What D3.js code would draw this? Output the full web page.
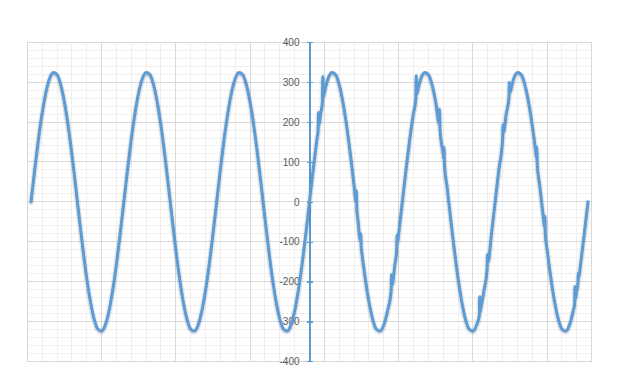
<!DOCTYPE html>
<html>
<head>
<meta charset="utf-8">
<script src="https://cdn.jsdelivr.net/npm/d3@7/dist/d3.min.js"></script>
<style>
  html, body { margin: 0; padding: 0; background: #ffffff; }
  svg { display: block; }
</style>
</head>
<body>
<svg id="chart" width="617" height="392"></svg>
<script>
// ---- data (sample index vs. voltage) ----
// first three cycles: clean sine
const cleanX = [5,10,15,20,25,30,35,40,45,50,55,60,65,70,75,80,85,90,95,100,105,110,115,120,125,
  130,135,140,145,150,155,160,165,170,175,180,185,190,195,200,205,210,215,220,225,230,235,240,245,250,
  255,260,265,270,275,280,285,290,295,300,305,310,315,320,325,330,335,340,345,350,355,360,365,370,375];
const cleanV = [0,81,157,222,274,309,324,319,294,250,191,120,41,-41,-120,-191,-250,-294,-319,-324,-309,-274,-222,-157,-81,
  0,81,157,222,274,309,324,319,294,250,191,120,41,-41,-120,-191,-250,-294,-319,-324,-309,-274,-222,-157,-81,
  0,81,157,222,274,309,324,319,294,250,191,120,41,-41,-120,-191,-250,-294,-319,-324,-309,-274,-222,-157,-81];
// last three cycles: sine with switching glitches
const noisyX = [380,385,390,391.6,392.1,392.8,395,397.4,397.9,398.8,400,405,410,415,420,425,430,435,440,442.6,443.1,443.8,445,
  448.5,449.0,449.7,450,455,460,465,470,475,480,485,489.9,490.4,491.1,495,497.4,497.9,498.6,500,
  505,510,515,520,523.2,523.7,524.6,525,530,535,540,545,550,554.6,555.1,555.8,560,560.6,561.1,561.8,565,570,575,580,585,590,595,600,605,
  608.7,609.2,609.8,610,615,619.2,619.7,620.4,625,
  630,635,640.1,640.6,641.3,645,648.6,649.1,649.8,650,655,660,665,670,675,680,685,685.5,686.0,686.7,690,695,696.4,696.9,697.6,
  700,705,710,715,720,725,730,735,737.0,737.5,738.1,740,741.5,742.0,742.6,745,750,755];
const noisyV = [0,81,157,179,224,192,222,249,314,264,274,309,324,319,294,250,191,120,41,1,28,-21,-41,
  -97,-80,-115,-120,-191,-250,-294,-319,-324,-309,-274,-224,-183,-209,-157,-121,-84,-103,-81,
  0,81,157,222,258,316,271,274,309,324,319,294,250,196,232,180,120,110,137,92,41,-41,-120,-191,-250,-294,-319,-324,-309,
  -285,-238,-276,-274,-222,-168,-132,-151,-81,
  0,81,158,193,175,222,261,300,273,274,309,324,319,294,250,191,120,112,137,93,41,-41,-63,-36,-82,
  -120,-191,-250,-294,-319,-324,-309,-274,-256,-212,-244,-222,-204,-178,-190,-157,-81,0];

const yTicks = [-400,-300,-200,-100,0,100,200,300,400];
const yTickLabels = ["-400","-300","-200","-100","0","100","200","300","400"];
const xDomain = [0, 760];
const yDomain = [-400, 400];
const xMajorStep = 100, xMinorStep = 20, yMinorStep = 20;
const axisCrossX = 380;

// ---- drawing ----
const svg = d3.select("#chart");
const x = d3.scaleLinear().domain(xDomain).range([27.3, 591.7]);
const y = d3.scaleLinear().domain(yDomain).range([361.3, 42.3]);

const grid = svg.append("g").attr("shape-rendering", "crispEdges");
const xMinor = d3.range(xDomain[0], xDomain[1] + 1, xMinorStep).filter(v => v % xMajorStep !== 0);
const yMinor = d3.range(yDomain[0], yDomain[1] + 1, yMinorStep).filter(v => v % 100 !== 0);
const xMajor = d3.range(xDomain[0], xDomain[1] + 1, xMajorStep).concat([xDomain[1]]);

grid.selectAll(".xmin").data(xMinor).join("line")
  .attr("x1", d => x(d)).attr("x2", d => x(d)).attr("y1", y(400)).attr("y2", y(-400))
  .attr("stroke", "#f0f0f0").attr("stroke-width", 1);
grid.selectAll(".ymin").data(yMinor).join("line")
  .attr("x1", x(xDomain[0])).attr("x2", x(xDomain[1])).attr("y1", d => y(d)).attr("y2", d => y(d))
  .attr("stroke", "#f0f0f0").attr("stroke-width", 1);
grid.selectAll(".xmaj").data(xMajor).join("line")
  .attr("x1", d => x(d)).attr("x2", d => x(d)).attr("y1", y(400)).attr("y2", y(-400))
  .attr("stroke", "#d9d9d9").attr("stroke-width", 1);
grid.selectAll(".ymaj").data(yTicks).join("line")
  .attr("x1", x(xDomain[0])).attr("x2", x(xDomain[1])).attr("y1", d => y(d)).attr("y2", d => y(d))
  .attr("stroke", "#d9d9d9").attr("stroke-width", 1);

// vertical value axis crossing at sample 380
const axis = d3.axisLeft(y).tickValues(yTicks).tickFormat((d, i) => yTickLabels[i]).tickSizeOuter(0);
const ax = svg.append("g").attr("transform", `translate(${x(axisCrossX)},0)`).call(axis);
ax.select(".domain").attr("stroke", "#5b9bd5").attr("stroke-width", 1.2).attr("shape-rendering", "crispEdges");
ax.selectAll(".tick line").attr("x1", -3).attr("x2", 3).attr("stroke", "#5b9bd5").attr("stroke-width", 1.2)
  .attr("shape-rendering", "crispEdges");
ax.selectAll(".tick text").attr("x", -10).attr("fill", "#595959")
  .style("font-family", "'Liberation Sans', Arial, sans-serif").style("font-size", "10px");

// series
const pts = cleanX.map((d, i) => [d, cleanV[i]]).concat(noisyX.map((d, i) => [d, noisyV[i]]));
const defs = svg.append("defs");
const f = defs.append("filter").attr("id", "sh").attr("x", "-5%").attr("y", "-5%").attr("width", "110%").attr("height", "110%");
f.append("feDropShadow").attr("dx", 0).attr("dy", 1).attr("stdDeviation", 1.3)
  .attr("flood-color", "#000").attr("flood-opacity", 0.35);

const line = d3.line().x(d => x(d[0])).y(d => y(d[1])).curve(d3.curveMonotoneX);
svg.append("path").datum(pts).attr("d", line)
  .attr("fill", "none").attr("stroke", "#5b9bd5").attr("stroke-width", 3)
  .attr("stroke-linejoin", "round").attr("stroke-linecap", "round")
  .attr("filter", "url(#sh)");
</script>
</body>
</html>
